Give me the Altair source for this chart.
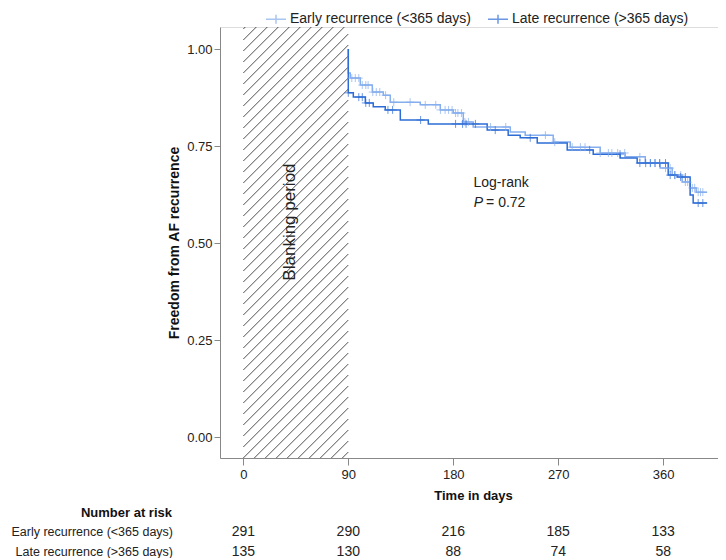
import altair as alt
import pandas as pd
import numpy as np

# ---- Data ----
early_label = "Early recurrence (<365 days)"
late_label = "Late recurrence (>365 days)"

early_times = [90, 90, 91.7, 100.3, 110.6, 120.0, 126.0, 151.7, 168.9, 180.0, 188.6, 197.1, 228.9,
               241.7, 265.7, 280.3, 306.0, 327.4, 344.6, 357.4, 367.7, 376.3, 383.1, 388.3, 397.7]
early_surv = [1.0, 0.938, 0.925, 0.907, 0.889, 0.881, 0.863, 0.856, 0.843, 0.835, 0.812, 0.799, 0.786,
              0.778, 0.760, 0.747, 0.732, 0.722, 0.706, 0.693, 0.675, 0.657, 0.642, 0.631, 0.631]

late_times = [90, 90, 94.3, 104.6, 111.4, 121.7, 134.6, 158.6, 209.1, 227.1, 237.4, 252.0, 277.7,
              300.0, 323.1, 337.7, 364.3, 372.0, 383.1, 385.7, 397.7]
late_surv = [1.0, 0.887, 0.876, 0.861, 0.851, 0.843, 0.817, 0.807, 0.791, 0.778, 0.771, 0.758, 0.740,
             0.729, 0.719, 0.706, 0.675, 0.670, 0.624, 0.603, 0.603]

early_censor = [93, 96, 99, 102, 105, 107, 111, 114, 117, 122, 129, 143, 156, 165, 169, 173, 176, 179,
                182, 184, 187, 190, 193, 212, 225, 259, 267, 282, 289, 293, 306, 313, 316, 321, 327,
                340, 349, 353, 357, 362, 366, 370, 375, 379, 381, 385, 387, 390, 392, 394]
late_censor = [90, 99, 102, 105, 108, 124, 128, 152, 182, 188, 191, 199, 216, 246, 297, 323, 340, 345,
               349, 353, 357, 362, 366, 370, 375, 379, 390, 394]

risk_times = [0, 90, 180, 270, 360]
risk_early = [291, 290, 216, 185, 133]
risk_late = [135, 130, 88, 74, 58]

light = "#86aeee"
dark = "#2d6cd6"

# ---- Build tables ----
curves = pd.DataFrame(
    [{"t": t, "s": s, "g": early_label, "i": i} for i, (t, s) in enumerate(zip(early_times, early_surv))]
    + [{"t": t, "s": s, "g": late_label, "i": i} for i, (t, s) in enumerate(zip(late_times, late_surv))]
)


def step_at(times, surv, t):
    v = surv[0]
    for ti, si in zip(times, surv):
        if ti <= t:
            v = si
    return v


cens = pd.DataFrame(
    [{"t": t, "s": step_at(early_times, early_surv, t), "col": light} for t in early_censor]
    + [{"t": t, "s": step_at(late_times, late_surv, t), "col": dark} for t in late_censor]
)

W, H = 498, 431
xdom = [-20, 407]
ydom = [-0.0541, 1.0567]
kx = W / (xdom[1] - xdom[0])
ky = H / (ydom[1] - ydom[0])
px0 = (0 - xdom[0]) * kx
px1 = (90 - xdom[0]) * kx
segs = []
sp = 11.0
c0 = px0 + H
for n in range(-int(H / sp) - 2, int((px1 - px0) / sp) + 2):
    c = c0 + n * sp
    lo = max(px0, c - H)
    hi = min(px1, c)
    if hi - lo > 0.5:
        segs.append({
            "x": lo / kx + xdom[0], "y": ydom[1] - (c - lo) / ky,
            "x2": hi / kx + xdom[0], "y2": ydom[1] - (c - hi) / ky,
        })
hatch = pd.DataFrame(segs)

risk = pd.DataFrame(
    [{"t": t, "n": str(n), "row": 0} for t, n in zip(risk_times, risk_early)]
    + [{"t": t, "n": str(n), "row": 1} for t, n in zip(risk_times, risk_late)]
)

xs = alt.Scale(domain=xdom, nice=False, zero=False)
ys = alt.Scale(domain=ydom, nice=False, zero=False)

hatch_layer = alt.Chart(hatch).mark_rule(color="#222", strokeWidth=0.8).encode(
    x=alt.X("x:Q", scale=xs, axis=alt.Axis(
        values=risk_times, title="Time in days", titleFontWeight="bold", titleFontSize=13,
        labelFontSize=13, tickSize=7, labelPadding=3, titlePadding=8, grid=False, titleX=253,
        domainColor="#888", tickColor="#888", labelColor="#222", titleColor="#111")),
    x2="x2:Q",
    y=alt.Y("y:Q", scale=ys, axis=alt.Axis(
        values=[0, 0.25, 0.5, 0.75, 1.0], format=".2f", title="Freedom from AF recurrence",
        titleFontWeight="bold", titleFontSize=14, labelFontSize=13, tickSize=6, labelPadding=2,
        titlePadding=5, grid=False, domainColor="#888", tickColor="#888", labelColor="#222",
        titleColor="#111")),
    y2="y2:Q",
)

blank_text = alt.Chart(pd.DataFrame({"t": [40], "s": [0.554], "txt": ["Blanking period"]})).mark_text(
    angle=270, fontSize=17, color="#222").encode(x=alt.X("t:Q", scale=xs), y=alt.Y("s:Q", scale=ys), text="txt:N")

lines = alt.Chart(curves).mark_line(interpolate="step-after", strokeWidth=1.5).encode(
    x=alt.X("t:Q", scale=xs),
    y=alt.Y("s:Q", scale=ys),
    color=alt.Color("g:N", scale=alt.Scale(domain=[early_label, late_label], range=[light, dark]),
                    legend=alt.Legend(orient="none", legendX=45, legendY=-19, direction="horizontal",
                                      title=None, symbolType="M-1,0H1M0,-0.45V0.45", symbolSize=400,
                                      symbolStrokeWidth=1.5, labelFontSize=14, labelColor="#222",
                                      columnPadding=14, labelOffset=3, labelLimit=400)),
    order="i:Q",
)

cross = alt.Chart(cens).mark_point(shape="M-1,0H1M0,-1V1", size=64, filled=False, strokeWidth=1).encode(
    x=alt.X("t:Q", scale=xs), y=alt.Y("s:Q", scale=ys), color=alt.Color("col:N", scale=None))

logrank = alt.Chart(pd.DataFrame({"t": [221], "s": [0.655], "txt": ["Log-rank"]})).mark_text(
    fontSize=14, color="#222").encode(x=alt.X("t:Q", scale=xs), y=alt.Y("s:Q", scale=ys), text="txt:N")
pval_p = alt.Chart(pd.DataFrame({"t": [221], "s": [0.603], "txt": ["P"]})).mark_text(
    fontSize=14, fontStyle="italic", align="right", dx=-18, color="#222").encode(
    x=alt.X("t:Q", scale=xs), y=alt.Y("s:Q", scale=ys), text="txt:N")
pval_v = alt.Chart(pd.DataFrame({"t": [221], "s": [0.603], "txt": ["= 0.72"]})).mark_text(
    fontSize=14, align="left", dx=-15, color="#222").encode(
    x=alt.X("t:Q", scale=xs), y=alt.Y("s:Q", scale=ys), text="txt:N")

risk_nums0 = alt.Chart(risk[risk.row == 0]).mark_text(fontSize=14, color="#222").encode(
    x=alt.X("t:Q", scale=xs), y=alt.value(505), text="n:N")
risk_nums1 = alt.Chart(risk[risk.row == 1]).mark_text(fontSize=14, color="#222").encode(
    x=alt.X("t:Q", scale=xs), y=alt.value(525), text="n:N")

row_labels = pd.DataFrame({"txt": ["Number at risk", early_label, late_label]})
lab_title = alt.Chart(row_labels.iloc[[0]]).mark_text(
    fontSize=13, fontWeight="bold", align="right", color="#111").encode(
    x=alt.value(-48), y=alt.value(486), text="txt:N")
lab_early = alt.Chart(row_labels.iloc[[1]]).mark_text(fontSize=12.5, align="right", color="#222").encode(
    x=alt.value(-47), y=alt.value(505), text="txt:N")
lab_late = alt.Chart(row_labels.iloc[[2]]).mark_text(fontSize=12.5, align="right", color="#222").encode(
    x=alt.value(-47), y=alt.value(525), text="txt:N")

chart = alt.layer(
    hatch_layer, blank_text, lines, cross, logrank, pval_p, pval_v,
    risk_nums0, risk_nums1, lab_title, lab_early, lab_late,
).properties(
    width=W, height=H,
    padding={"left": 212, "top": 19, "right": 0, "bottom": 100},
    autosize=alt.AutoSizeParams(type="none"),
).configure_view(stroke=None).configure(font="Liberation Sans")

chart.save("out.html", embed_options={"renderer": "svg", "actions": False})
